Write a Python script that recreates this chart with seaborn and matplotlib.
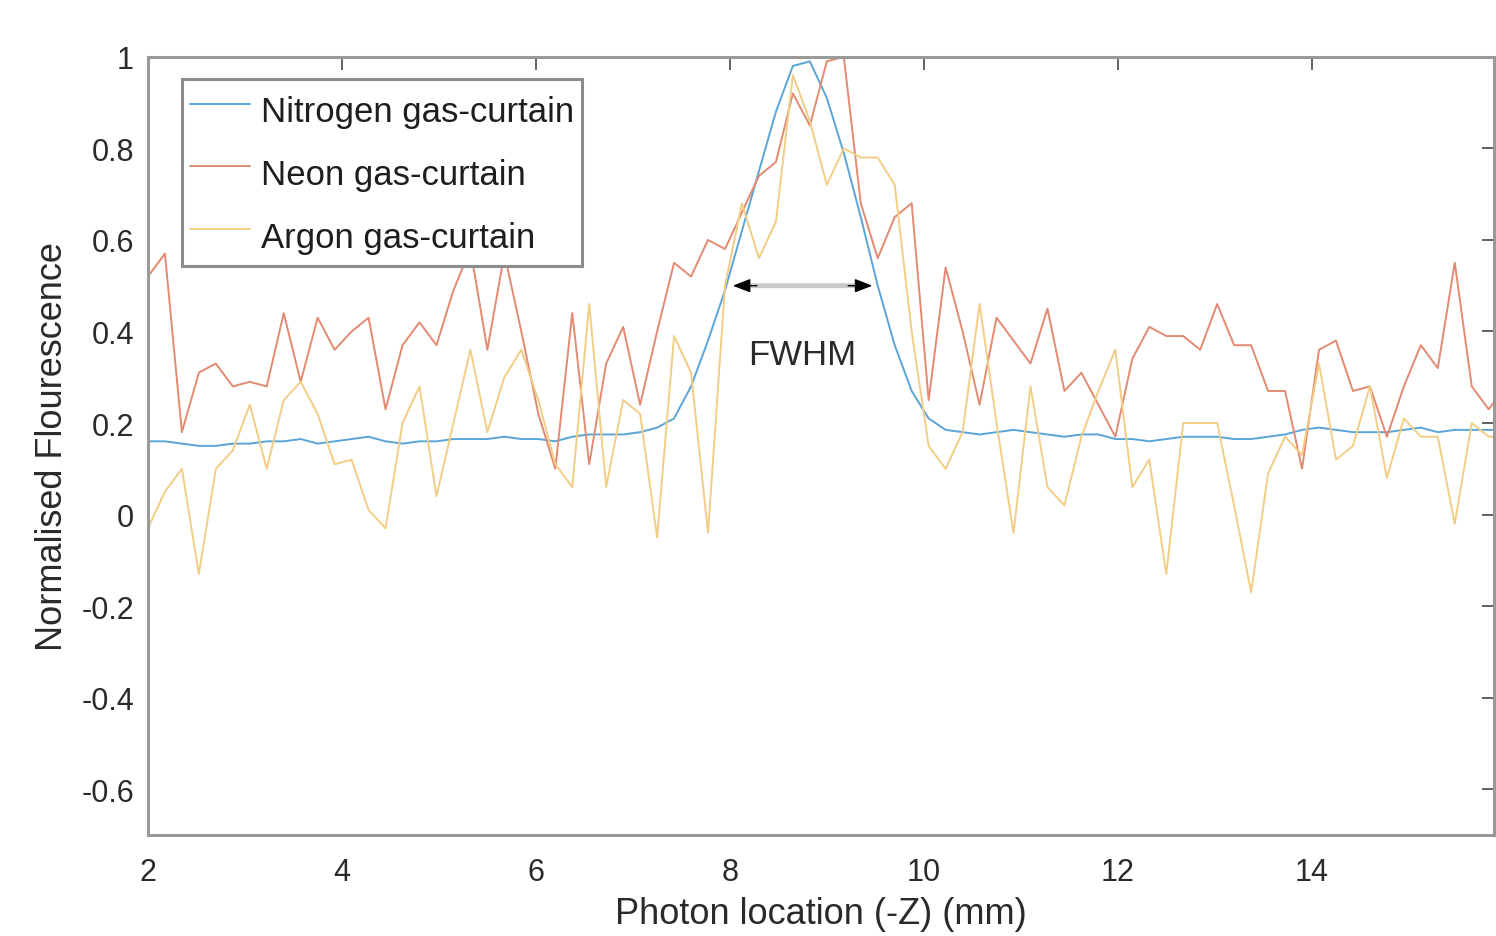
import numpy as np
import pandas as pd
import seaborn as sns
import matplotlib
matplotlib.use("Agg")
import matplotlib.pyplot as plt
from matplotlib.lines import Line2D

# ---------------- data ----------------
x_start = 2.0
x_step = 0.175

nitrogen = [0.16, 0.16, 0.155, 0.15, 0.15, 0.155, 0.155, 0.16, 0.16, 0.165,
            0.155, 0.16, 0.165, 0.17, 0.16, 0.155, 0.16, 0.16, 0.165, 0.165,
            0.165, 0.17, 0.165, 0.165, 0.16, 0.17, 0.175, 0.175, 0.175, 0.18,
            0.19, 0.21, 0.28, 0.38, 0.49, 0.62, 0.75, 0.88, 0.98, 0.99,
            0.91, 0.79, 0.65, 0.50, 0.37, 0.27, 0.21, 0.185, 0.18, 0.175,
            0.18, 0.185, 0.18, 0.175, 0.17, 0.175, 0.175, 0.165, 0.165, 0.16,
            0.165, 0.17, 0.17, 0.17, 0.165, 0.165, 0.17, 0.175, 0.185, 0.19,
            0.185, 0.18, 0.18, 0.18, 0.185, 0.19, 0.18, 0.185, 0.185, 0.185,
            0.185]

neon = [0.52, 0.57, 0.18, 0.31, 0.33, 0.28, 0.29, 0.28, 0.44, 0.29,
        0.43, 0.36, 0.40, 0.43, 0.23, 0.37, 0.42, 0.37, 0.49, 0.58,
        0.36, 0.57, 0.40, 0.22, 0.10, 0.44, 0.11, 0.33, 0.41, 0.24,
        0.40, 0.55, 0.52, 0.60, 0.58, 0.66, 0.74, 0.77, 0.92, 0.85,
        0.99, 1.00, 0.68, 0.56, 0.65, 0.68, 0.25, 0.54, 0.40, 0.24,
        0.43, 0.38, 0.33, 0.45, 0.27, 0.31, 0.24, 0.17, 0.34, 0.41,
        0.39, 0.39, 0.36, 0.46, 0.37, 0.37, 0.27, 0.27, 0.10, 0.36,
        0.38, 0.27, 0.28, 0.17, 0.28, 0.37, 0.32, 0.55, 0.28, 0.23,
        0.28]

argon = [-0.03, 0.05, 0.10, -0.13, 0.10, 0.14, 0.24, 0.10, 0.25, 0.29,
         0.22, 0.11, 0.12, 0.01, -0.03, 0.20, 0.28, 0.04, 0.20, 0.36,
         0.18, 0.30, 0.36, 0.25, 0.11, 0.06, 0.46, 0.06, 0.25, 0.22,
         -0.05, 0.39, 0.31, -0.04, 0.50, 0.68, 0.56, 0.64, 0.96, 0.86,
         0.72, 0.80, 0.78, 0.78, 0.72, 0.40, 0.15, 0.10, 0.18, 0.46,
         0.20, -0.04, 0.28, 0.06, 0.02, 0.17, 0.27, 0.36, 0.06, 0.12,
         -0.13, 0.20, 0.20, 0.20, 0.02, -0.17, 0.09, 0.17, 0.13, 0.33,
         0.12, 0.15, 0.28, 0.08, 0.21, 0.17, 0.17, -0.02, 0.20, 0.17,
         0.17]

series_names = ["Nitrogen gas-curtain", "Neon gas-curtain", "Argon gas-curtain"]
x_ticks = [2, 4, 6, 8, 10, 12, 14]
y_ticks = [-0.6, -0.4, -0.2, 0, 0.2, 0.4, 0.6, 0.8, 1]
y_tick_labels = ["-0.6", "-0.4", "-0.2", "0", "0.2", "0.4", "0.6", "0.8", "1"]
fwhm_left, fwhm_right, fwhm_level = 8.03, 9.47, 0.5

# ---------------- build table ----------------
frames = []
for name, vals in zip(series_names, [nitrogen, neon, argon]):
    n = len(vals)
    xs = x_start + x_step * np.arange(n)
    frames.append(pd.DataFrame({"x": xs, "y": vals, "series": name}))
df = pd.concat(frames, ignore_index=True)

# ---------------- plot ----------------
sns.set_theme(style="white")
plt.rcParams["font.family"] = ["Liberation Sans", "DejaVu Sans"]

fig = plt.figure(figsize=(14.96, 9.37), dpi=100)
ax = fig.add_axes([0.0989, 0.1078, 0.8998, 0.8305])

palette = {"Nitrogen gas-curtain": "#5aa5d8",
           "Neon gas-curtain": "#e28a72",
           "Argon gas-curtain": "#f2cd85"}

sns.lineplot(data=df, x="x", y="y", hue="series", hue_order=series_names,
             palette=palette, linewidth=1.4, ax=ax, legend=False,
             estimator=None, sort=False)

ax.set_xlim(2, 15.88)
ax.set_ylim(-0.7, 1.0)
ax.set_xticks(x_ticks)
ax.set_xticklabels([str(t) for t in x_ticks])
ax.set_yticks(y_ticks)
ax.set_yticklabels(y_tick_labels)

tick_color = "#2a2a2a"
ax.tick_params(axis="both", which="both", direction="in", length=9, width=1.3,
               colors="#555555", labelcolor=tick_color, labelsize=22,
               top=True, right=True)
ax.tick_params(axis="x", pad=16)
ax.tick_params(axis="y", pad=10)
for s in ax.spines.values():
    s.set_visible(True)
    s.set_color("#9a9a9a")
    s.set_linewidth(2.2)

ax.set_xlabel("Photon location (-Z) (mm)", fontsize=26, color=tick_color, labelpad=6)
ax.set_ylabel("Normalised Flourescence", fontsize=26, color=tick_color, labelpad=8)

# legend
handles = [Line2D([0], [0], color=palette[n], lw=1.4) for n in series_names]
leg = ax.legend(handles, series_names, loc="upper left",
                bbox_to_anchor=(0.0253, 0.972), borderaxespad=0,
                fontsize=25, frameon=True, fancybox=False,
                handlelength=1.75, handletextpad=0.3, labelspacing=0.45,
                handleheight=1.71, borderpad=0.22)
leg.get_frame().set_edgecolor("#8c8c8c")
leg.get_frame().set_linewidth(2.2)
leg.get_frame().set_facecolor("white")
leg.get_frame().set_alpha(1.0)
for t in leg.get_texts():
    t.set_color("#1e1e1e")

# FWHM arrow
ax.annotate("", xy=(fwhm_left, fwhm_level), xytext=(fwhm_right, fwhm_level),
            arrowprops=dict(arrowstyle="-", color="#c9c9c9", lw=3.5,
                            shrinkA=8, shrinkB=8))
ax.annotate("", xy=(fwhm_left, fwhm_level), xytext=(fwhm_left + 0.25, fwhm_level),
            arrowprops=dict(arrowstyle="-|>,head_length=0.9,head_width=0.35",
                            color="black", lw=1.0, shrinkA=0, shrinkB=0))
ax.annotate("", xy=(fwhm_right, fwhm_level), xytext=(fwhm_right - 0.25, fwhm_level),
            arrowprops=dict(arrowstyle="-|>,head_length=0.9,head_width=0.35",
                            color="black", lw=1.0, shrinkA=0, shrinkB=0))
ax.text((fwhm_left + fwhm_right) / 2, 0.35, "FWHM", ha="center", va="center",
        fontsize=25, color="#2a2a2a")

fig.savefig("out.png", dpi=100, facecolor="white")
